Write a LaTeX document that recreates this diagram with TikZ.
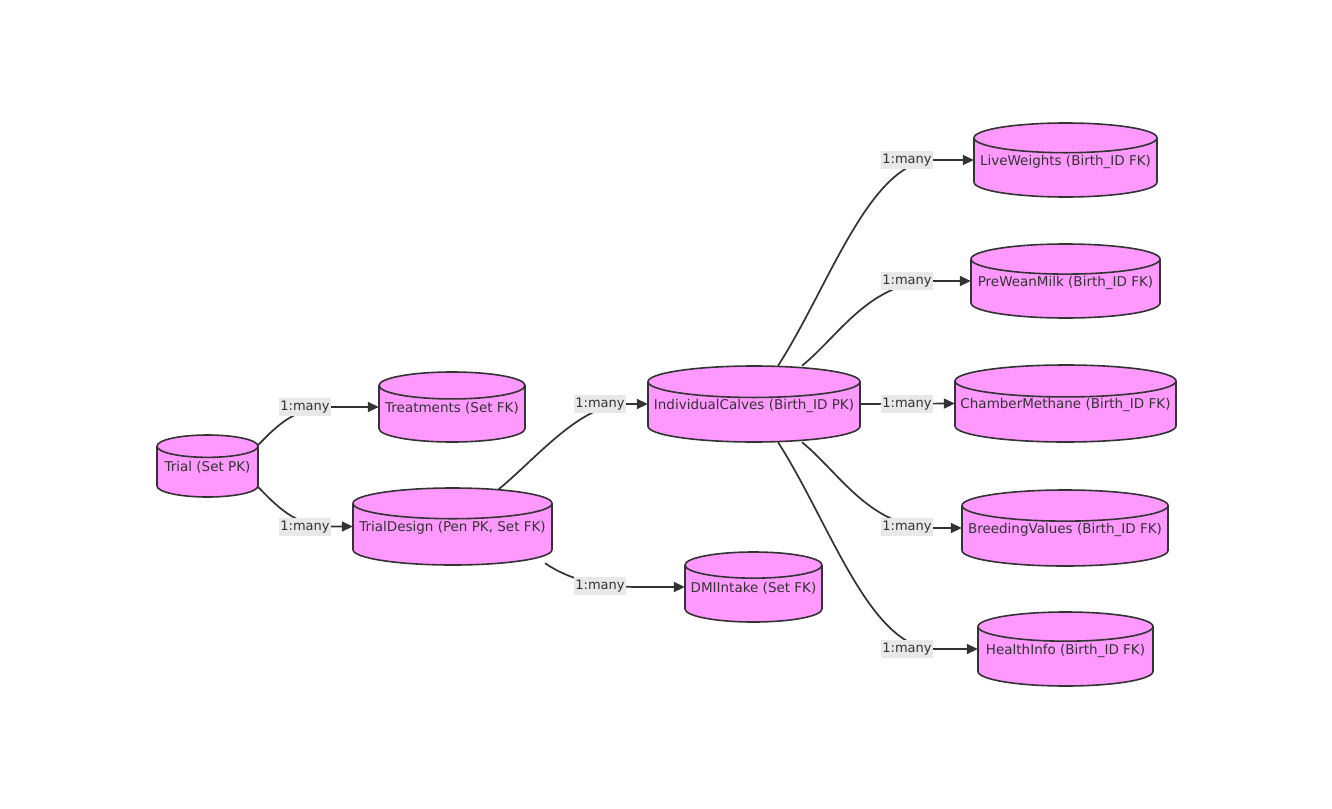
\documentclass[tikz,border=0pt]{standalone}
\usepackage{fontspec}
\setmainfont{DejaVu Sans}
\usetikzlibrary{arrows.meta,calc}
\definecolor{cylfill}{HTML}{FF99FF}
\definecolor{lnc}{HTML}{333333}
\definecolor{lblbg}{HTML}{E8E8E8}
\tikzset{
  cyl/.style={draw=lnc,line width=1.6pt,fill=cylfill},
  cyltext/.style={inner sep=0pt,font=\fontsize{13.5}{15}\selectfont,text=lnc},
  edge/.style={draw=lnc,line width=1.7pt,-{Triangle[length=11pt,width=10pt]}},
  lbl/.style={fill=lblbg,inner xsep=1pt,inner ysep=2.5pt,font=\fontsize{13}{15}\selectfont,text=lnc}
}
\newcommand\dbcyl[6]{%
  \pgfmathsetmacro\cylry{#5/(2.5+#5/25)}%
  \pgfmathsetmacro\cylh{#4-#3}%
  \filldraw[cyl] (#2-#5,-#3-\cylry) -- (#2-#5,-#4+\cylry) arc[start angle=180,end angle=360,x radius=#5,y radius=\cylry] -- (#2+#5,-#3-\cylry) arc[start angle=0,end angle=180,x radius=#5,y radius=\cylry] -- cycle;
  \draw[cyl,fill=none] (#2-#5,-#3-\cylry) arc[start angle=180,end angle=360,x radius=#5,y radius=\cylry];
  \node[cyltext,minimum width=2*#5,minimum height=\cylh] (#1) at (#2,{-(#3+#4)/2}) {};
  \node[cyltext] (#1-t) at ($(#1.center)+(0,-1.5)$) {#6};
}
\begin{document}
\begin{tikzpicture}[x=1pt,y=1pt]
\useasboundingbox (0,0) rectangle (1332,-808);
\fill[white] (0,0) rectangle (1332,-808);
\dbcyl{trial}{207.5}{435}{497}{50.5}{Trial (Set PK)}
\dbcyl{treat}{452}{372}{442}{73}{Treatments (Set FK)}
\dbcyl{design}{452.5}{488}{565}{99.5}{TrialDesign (Pen PK, Set FK)}
\dbcyl{dmi}{753.5}{552}{622}{68.5}{DMIIntake (Set FK)}
\dbcyl{calves}{754}{366}{442}{106}{IndividualCalves (Birth\_ID PK)}
\dbcyl{live}{1065.5}{123}{197}{91.5}{LiveWeights (Birth\_ID FK)}
\dbcyl{milk}{1065.5}{244}{318}{94.5}{PreWeanMilk (Birth\_ID FK)}
\dbcyl{meth}{1065.5}{365}{442}{110.5}{ChamberMethane (Birth\_ID FK)}
\dbcyl{breed}{1065}{490}{566}{103}{BreedingValues (Birth\_ID FK)}
\dbcyl{health}{1065.5}{612}{686}{87.5}{HealthInfo (Birth\_ID FK)}

\draw[edge] ($(trial.east)+(0,21)$) .. controls ($(trial.east)+(24,46)$) and ($(treat.west)+(-81,0)$) .. ($(treat.west)+(-44,0)$) -- (treat.west);
\draw[edge] ($(trial.east)+(0,-21)$) .. controls ($(trial.east)+(24,-46)$) and ($(design.west)+(-55,0)$) .. ($(design.west)+(-18,0)$) -- (design.west);
\draw[edge] ($(design.north)+(45.5,-2)$) .. controls ($(design.north)+(82.5,28)$) and ($(calves.west)+(-68,0)$) .. ($(calves.west)+(-23,0)$) -- (calves.west);
\draw[edge] ($(design.south)+(92.5,2)$) .. controls ($(design.south)+(117.5,-15)$) and ($(dmi.west)+(-85,0)$) .. ($(dmi.west)+(-45,0)$) -- (dmi.west);
\draw[edge] ($(calves.north)+(24,0)$) .. controls ($(calves.north)+(76,81)$) and ($(live.west)+(-104,0)$) .. ($(live.west)+(-39,0)$) -- (live.west);
\draw[edge] ($(calves.north)+(48,0)$) .. controls ($(calves.north)+(86,31)$) and ($(milk.west)+(-101,0)$) .. ($(milk.west)+(-36,0)$) -- (milk.west);
\draw[edge] (calves.east) -- (meth.west);
\draw[edge] ($(calves.south)+(48,0)$) .. controls ($(calves.south)+(86,-31)$) and ($(breed.west)+(-92,0)$) .. ($(breed.west)+(-27,0)$) -- (breed.west);
\draw[edge] ($(calves.south)+(24,0)$) .. controls ($(calves.south)+(76,-81)$) and ($(health.west)+(-108,0)$) .. ($(health.west)+(-43,0)$) -- (health.west);

\node[lbl] (l1) at (305,-407) {1:many};
\node[lbl] (l2) at (305,-527) {1:many};
\node[lbl] (l3) at (600,-404) {1:many};
\node[lbl] (l4) at (600,-586) {1:many};
\node[lbl] (l5) at (907,-160) {1:many};
\node[lbl] (l6) at (907,-281) {1:many};
\node[lbl] (l7) at (907,-404) {1:many};
\node[lbl] (l8) at (907,-527) {1:many};
\node[lbl] (l9) at (907,-649) {1:many};
\end{tikzpicture}
\end{document}
